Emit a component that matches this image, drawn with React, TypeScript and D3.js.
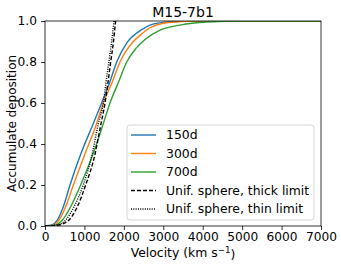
import React, { useRef, useEffect } from 'react';
import * as d3 from 'd3';

// velocities (km/s) and accumulated deposition
const v150 = [0, 170, 313, 465, 634, 905, 1226, 1437, 1640, 1818, 2080, 2454, 2663, 3000, 3420, 4000, 7000];
const dep150 = [0, 0.005, 0.029, 0.094, 0.2, 0.35, 0.5, 0.6, 0.7, 0.8, 0.895, 0.958, 0.98, 0.993, 0.998, 1.0, 1.0];

const v300 = [0, 200, 355, 524, 719, 1010, 1310, 1479, 1700, 1902, 2240, 2410, 2536, 2663, 2917, 3300, 3800, 7000];
const dep300 = [0, 0.004, 0.029, 0.094, 0.2, 0.35, 0.5, 0.6, 0.7, 0.8, 0.9, 0.93, 0.95, 0.967, 0.985, 0.995, 1.0, 1.0];

const v700 = [0, 250, 440, 651, 905, 1209, 1479, 1648, 1860, 2072, 2300, 2536, 2917, 3420, 4100, 5000, 7000];
const dep700 = [0, 0.004, 0.029, 0.094, 0.2, 0.346, 0.5, 0.6, 0.7, 0.8, 0.865, 0.91, 0.956, 0.98, 0.995, 1.0, 1.0];

const vThick = [0, 300, 440, 609, 820, 1031, 1268, 1400, 1522, 1590, 1666, 1737, 1790];
const depThick = [0, 0.003, 0.01, 0.029, 0.094, 0.2, 0.35, 0.48, 0.6, 0.69, 0.8, 0.9, 1.0];

const vThin = [0, 300, 524, 736, 970, 1190, 1353, 1479, 1547, 1620, 1690, 1750];
const depThin = [0, 0.005, 0.029, 0.094, 0.2, 0.346, 0.5, 0.6, 0.7, 0.8, 0.9, 1.0];

const xTicks = [0, 1000, 2000, 3000, 4000, 5000, 6000, 7000];
const yTicks = [0, 0.2, 0.4, 0.6, 0.8, 1.0];

const series = [
  { label: '150d', v: v150, d: dep150, color: '#1f77b4', dash: '' },
  { label: '300d', v: v300, d: dep300, color: '#ff7f0e', dash: '' },
  { label: '700d', v: v700, d: dep700, color: '#2ca02c', dash: '' },
  { label: 'Unif. sphere, thick limit', v: vThick, d: depThick, color: '#000000', dash: '4,2' },
  { label: 'Unif. sphere, thin limit', v: vThin, d: depThin, color: '#000000', dash: '1,1.3' },
];

const FONT = '"DejaVu Sans", sans-serif';

export default function App() {
  const svgRef = useRef<SVGSVGElement | null>(null);

  useEffect(() => {
    if (!svgRef.current) return;
    const svg = d3.select(svgRef.current);
    svg.selectAll('*').remove();

    const margin = { top: 21, right: 20, bottom: 41, left: 45 };
    const width = 341;
    const height = 267;
    const innerWidth = width - margin.left - margin.right;
    const innerHeight = height - margin.top - margin.bottom;

    const x = d3.scaleLinear().domain([0, 7000]).range([0, innerWidth]);
    const y = d3.scaleLinear().domain([0, 1]).range([innerHeight, 0]);

    svg.append('rect').attr('width', width).attr('height', height).attr('fill', '#fff');

    const g = svg.append('g').attr('transform', `translate(${margin.left},${margin.top})`);

    g.append('defs').append('clipPath').attr('id', 'plot-clip')
      .append('rect').attr('width', innerWidth).attr('height', innerHeight);

    // curves
    const line = d3.line<[number, number]>()
      .x(p => x(p[0]))
      .y(p => y(p[1]))
      .curve(d3.curveMonotoneX);

    const curves = g.append('g').attr('clip-path', 'url(#plot-clip)');
    series.forEach(s => {
      const pts = s.v.map((v, i) => [v, s.d[i]] as [number, number]);
      curves.append('path')
        .attr('d', line(pts))
        .attr('fill', 'none')
        .attr('stroke', s.color)
        .attr('stroke-width', 1.4)
        .attr('stroke-dasharray', s.dash || null);
    });

    // axes
    const xAxis = d3.axisBottom(x).tickValues(xTicks).tickFormat(d3.format('d')).tickSize(4).tickPadding(2);
    const yAxis = d3.axisLeft(y).tickValues(yTicks).tickFormat(d3.format('.1f')).tickSize(4).tickPadding(4);

    g.append('g')
      .attr('transform', `translate(0,${innerHeight})`)
      .call(xAxis)
      .call(a => a.select('.domain').remove())
      .call(a => a.selectAll('.tick line').attr('stroke', '#000').attr('stroke-width', 0.8))
      .call(a => a.selectAll('.tick text').attr('fill', '#000').style('font-family', FONT).style('font-size', '12.2px'));

    g.append('g')
      .call(yAxis)
      .call(a => a.select('.domain').remove())
      .call(a => a.selectAll('.tick line').attr('stroke', '#000').attr('stroke-width', 0.8))
      .call(a => a.selectAll('.tick text').attr('fill', '#000').style('font-family', FONT).style('font-size', '12.2px'));

    // frame
    g.append('rect')
      .attr('width', innerWidth)
      .attr('height', innerHeight)
      .attr('fill', 'none')
      .attr('stroke', '#000')
      .attr('stroke-width', 0.8);

    // title and axis labels
    svg.append('text')
      .attr('x', margin.left + innerWidth / 2)
      .attr('y', 17)
      .attr('text-anchor', 'middle')
      .style('font-family', FONT)
      .style('font-size', '14px')
      .text('M15-7b1');

    const xl = svg.append('text')
      .attr('x', margin.left + innerWidth / 2)
      .attr('y', 257)
      .attr('text-anchor', 'middle')
      .style('font-family', FONT)
      .style('font-size', '12.4px');
    xl.append('tspan').text('Velocity (km s');
    xl.append('tspan').attr('dy', '-0.45em').style('font-size', '8.7px').text('\u22121');
    xl.append('tspan').attr('dy', '0.45em').text(')');

    svg.append('text')
      .attr('transform', `translate(16,${margin.top + innerHeight / 2}) rotate(-90)`)
      .attr('text-anchor', 'middle')
      .style('font-family', FONT)
      .style('font-size', '12px')
      .text('Accumulate deposition');

    // legend
    const lg = svg.append('g').attr('transform', 'translate(127,125)');
    lg.append('rect')
      .attr('width', 187)
      .attr('height', 95)
      .attr('rx', 3)
      .attr('fill', '#fff')
      .attr('fill-opacity', 0.8)
      .attr('stroke', '#cccccc')
      .attr('stroke-width', 0.8);
    series.forEach((s, i) => {
      const yy = 10 + i * 18.5;
      lg.append('line')
        .attr('x1', 4).attr('x2', 29)
        .attr('y1', yy).attr('y2', yy)
        .attr('stroke', s.color)
        .attr('stroke-width', 1.4)
        .attr('stroke-dasharray', s.dash || null);
      lg.append('text')
        .attr('x', 39)
        .attr('y', yy + 4.4)
        .style('font-family', FONT)
        .style('font-size', '12.4px')
        .text(s.label);
    });
  }, []);

  return (
    <div style={{ position: 'absolute', left: 0, top: 0 }}>
      <svg ref={svgRef} width={341} height={267} style={{ display: 'block' }} />
    </div>
  );
}
